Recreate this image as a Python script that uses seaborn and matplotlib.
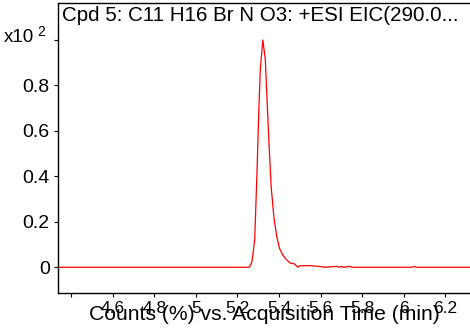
import matplotlib
matplotlib.use("Agg")
import matplotlib.pyplot as plt
import seaborn as sns
import pandas as pd

# Extracted ion chromatogram, counts scaled by 10^2 (%)
time_min = [4.30, 5.000, 5.258, 5.270, 5.283, 5.294, 5.303, 5.310, 5.322, 5.334,
            5.343, 5.351, 5.362, 5.375, 5.389, 5.402, 5.418, 5.434, 5.454, 5.474,
            5.490, 5.498, 5.530, 5.550, 5.600, 5.620, 5.680, 5.690, 5.700, 5.710,
            5.740, 5.750, 6.040, 6.050, 6.060, 6.400]
counts = [0.0, 0.0, 0.0, 0.025, 0.12, 0.415, 0.695, 0.87, 1.0, 0.915,
          0.725, 0.56, 0.356, 0.223, 0.135, 0.084, 0.054, 0.035, 0.018, 0.015,
          0.0, 0.006, 0.007, 0.007, 0.003, 0.0, 0.004, 0.0, 0.004, 0.0,
          0.004, 0.0, 0.0, 0.004, 0.0, 0.0]

x_ticks = [4.4, 4.6, 4.8, 5.0, 5.2, 5.4, 5.6, 5.8, 6.0, 6.2]
x_tick_labels = ["", "4.6", "4.8", "5", "5.2", "5.4", "5.6", "5.8", "6", "6.2"]
y_ticks = [0.0, 0.2, 0.4, 0.6, 0.8, 1.0]
y_tick_labels = ["0", "0.2", "0.4", "0.6", "0.8", ""]

title = "Cpd 5: C11 H16 Br N O3: +ESI EIC(290.0..."
x_label = "Counts (%) vs. Acquisition Time (min)"

sns.set_theme(style="white")
plt.rcParams["font.family"] = ["Liberation Sans", "DejaVu Sans"]

df = pd.DataFrame({"time": time_min, "counts": counts})

W, H = 470, 333
fig = plt.figure(figsize=(W / 100, H / 100), dpi=100)
ax = fig.add_axes([58 / W, 40.3 / H, 412 / W, 290 / H])

sns.lineplot(data=df, x="time", y="counts", ax=ax, color="#ff0000",
             linewidth=0.9, estimator=None, sort=False)

ax.set_xlim(4.3375, 6.318)
ax.set_ylim(-0.112, 1.164)
ax.set_xticks(x_ticks)
ax.set_xticklabels(x_tick_labels)
ax.set_yticks(y_ticks)
ax.set_yticklabels(y_tick_labels)

for side in ["left", "bottom", "top"]:
    ax.spines[side].set_color("black")
    ax.spines[side].set_linewidth(1.0)
ax.spines["right"].set_visible(False)

ax.tick_params(axis="both", which="both", direction="out", length=3,
               width=0.8, color="black", labelcolor="black",
               bottom=True, left=True, pad=3)
ax.tick_params(axis="y", labelsize=14)
ax.tick_params(axis="x", labelsize=12.5)

ax.set_xlabel(x_label, fontsize=15.2, color="black")
ax.xaxis.label.set_va("center")
ax.xaxis.set_label_coords(0.502, -0.075)
ax.set_ylabel("")

ax.text(0.01, 0.99, title, transform=ax.transAxes, ha="left", va="top",
        fontsize=14.8, color="black")

# Scale multiplier for the y axis
fig.text(34 / W, 1 - 41.5 / H, "x10", ha="right", va="baseline",
         fontsize=13.5, color="black")
fig.text(37 / W, 1 - 35.5 / H, "2", ha="left", va="baseline",
         fontsize=10, color="black")

fig.savefig("out.png", dpi=100)
